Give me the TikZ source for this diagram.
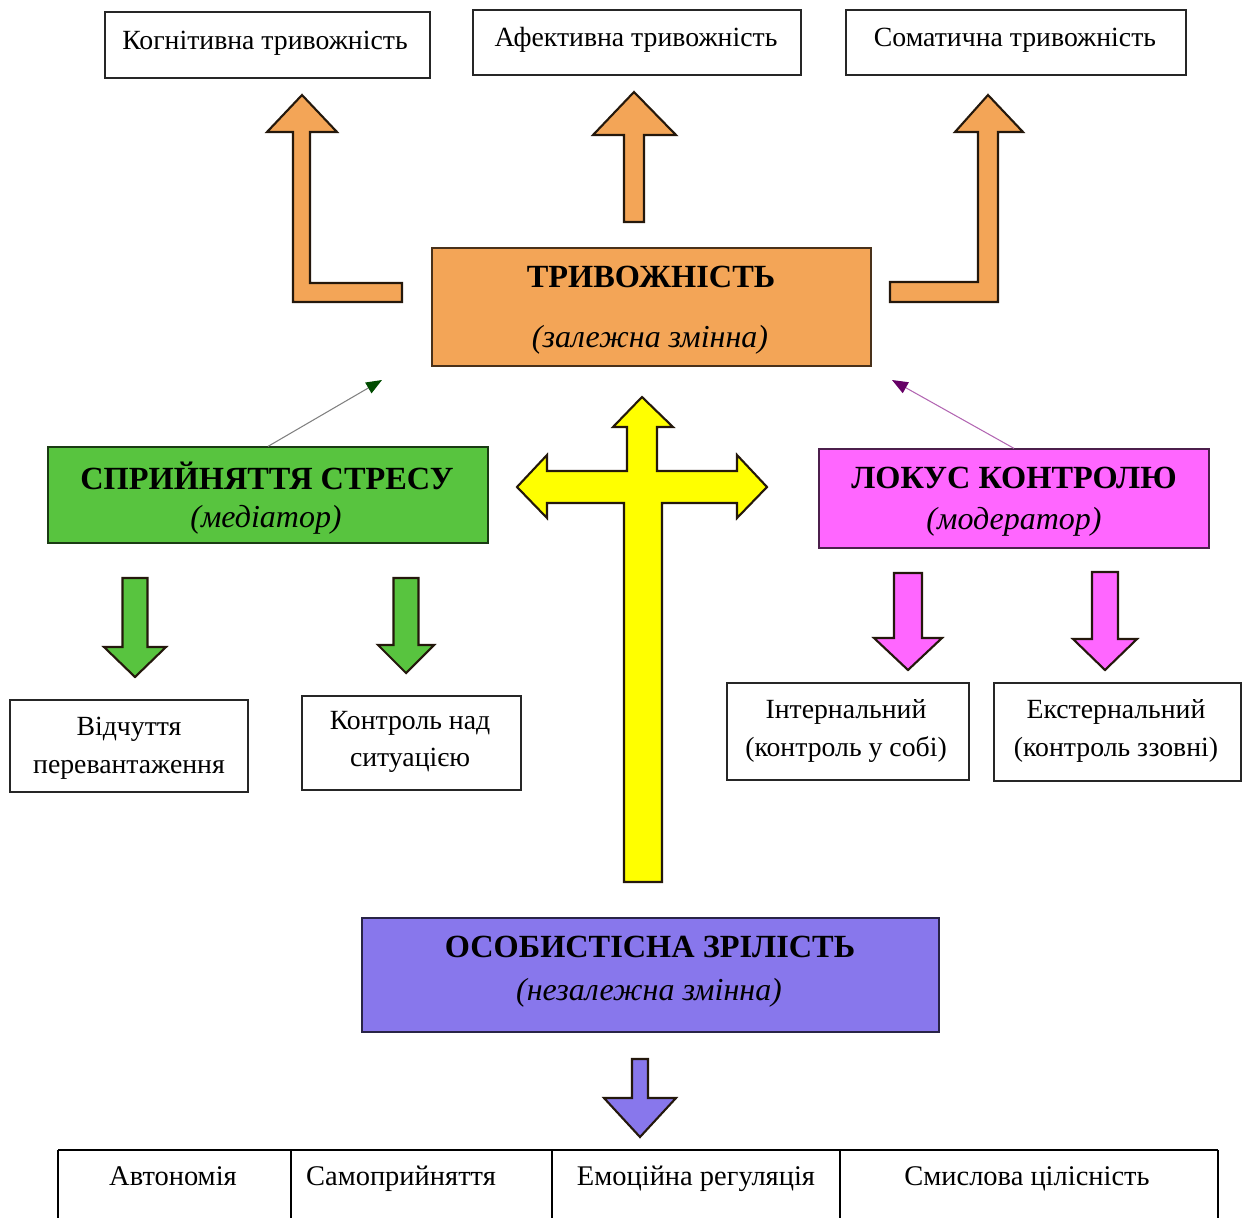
\documentclass[tikz,border=0pt]{standalone}
\usepackage{fontspec}
\setmainfont{Liberation Serif}
\usetikzlibrary{fit,arrows.meta}

\definecolor{orangebox}{HTML}{F3A557}
\definecolor{greenbox}{HTML}{58C43F}
\definecolor{pinkbox}{HTML}{FF66FF}
\definecolor{violetbox}{HTML}{8877EC}
\definecolor{yellowbar}{HTML}{FFFF00}
\definecolor{edge}{HTML}{24180C}

\tikzset{
  box/.style={draw=black!85, line width=0.7pt, inner sep=0pt},
  cbox/.style={box, fill=#1, draw=black!70!#1},
  txt/.style={inner sep=0pt, align=center, font=\fontsize{15.8}{21.5}\selectfont},
  title/.style={inner sep=0pt, font=\fontsize{18.4}{20}\selectfont\bfseries},
  subtitle/.style={inner sep=0pt, font=\fontsize{18.2}{20}\selectfont\itshape},
  blockar/.style={draw=edge, line width=1.2pt, line join=miter, fill=#1},
  thin/.style={line width=0.6pt},
  cell/.style={inner sep=0pt, anchor=base, font=\fontsize{16.2}{18}\selectfont}
}

\begin{document}
\begin{tikzpicture}[x=0.02cm,y=-0.02cm]
  \useasboundingbox (0,0) rectangle (1248,1218);

  % top row
  \node[box, fit={(105,12) (430,78)}] (kog) {};
  \node[box, fit={(473,10) (801,75)}] (afe) {};
  \node[box, fit={(846,10) (1186,75)}] (som) {};
  \node[txt] (kogT) at (265,43) {Когнітивна тривожність};
  \node[txt] (afeT) at (636,40) {Афективна тривожність};
  \node[txt] (somT) at (1015,40) {Соматична тривожність};

  % orange arrows
  \filldraw[blockar=orangebox] (293,302) -- (293,132) -- (267,132) -- (302,95) -- (337,132)
    -- (310,132) -- (310,283) -- (402,283) -- (402,302) -- cycle;
  \filldraw[blockar=orangebox] (624,222) -- (624,135) -- (593,135) -- (634,92) -- (676,135)
    -- (644,135) -- (644,222) -- cycle;
  \filldraw[blockar=orangebox] (998,302) -- (998,132) -- (1023,132) -- (988,95) -- (955,132)
    -- (978,132) -- (978,282) -- (890,282) -- (890,302) -- cycle;

  % dependent variable
  \node[cbox=orangebox, fit={(432,248) (871,366)}] (trv) {};
  \node[title] (trvT) at (651,277) {ТРИВОЖНІСТЬ};
  \node[subtitle] (trvS) at (650,340) {(залежна змінна)};

  % mediator and moderator
  \node[cbox=greenbox, fit={(48,447) (488,543)}] (str) {};
  \node[title] (strT) at (267,476) {СПРИЙНЯТТЯ СТРЕСУ};
  \node[subtitle] (strS) at (266,520) {(медіатор)};

  \node[cbox=pinkbox, fit={(819,449) (1209,548)}] (loc) {};
  \node[title] (locT) at (1014,478) {ЛОКУС КОНТРОЛЮ};
  \node[subtitle] (locS) at (1014,522) {(модератор)};

  \coordinate (tipL) at (382,380);
  \coordinate (tipR) at (892,380);
  \draw[thin, draw=gray, -{Triangle[length=9pt,width=7pt,color=green!30!black]}] (str.north) -- (tipL);
  \draw[thin, draw=violet!60, -{Triangle[length=9pt,width=7pt,color=violet!80!black]}] (loc.north) -- (tipR);

  % yellow cross
  \filldraw[blockar=yellowbar] (624,882) -- (624,503) -- (547,503) -- (547,518) -- (517,487)
    -- (547,455) -- (547,471) -- (627,471) -- (627,427) -- (613,427) -- (642,397) -- (673,427)
    -- (657,427) -- (657,471) -- (737,471) -- (737,455) -- (767,487) -- (737,518) -- (737,503)
    -- (662,503) -- (662,882) -- cycle;

  % down arrows
  \foreach \cx/\w/\t/\b/\h/\e/\c in {135/12.5/578/647/31/677/greenbox, 406/12.5/578/645/28/673/greenbox,
      908/14/573/638/34/670/pinkbox, 1105/13/572/639/32/670/pinkbox, 640/8/1059/1098/36/1137/violetbox}{
    \filldraw[blockar=\c] ({\cx-\w},\t) -- ({\cx+\w},\t) -- ({\cx+\w},\b) -- ({\cx+\h},\b)
      -- (\cx,\e) -- ({\cx-\h},\b) -- ({\cx-\w},\b) -- cycle;
  }

  % lower boxes
  \node[box, fit={(10,700) (248,792)}] (vid) {};
  \node[box, fit={(302,696) (521,790)}] (kon) {};
  \node[box, fit={(727,683) (969,780)}] (int) {};
  \node[box, fit={(994,683) (1241,781)}] (ext) {};
  \node[txt] (vidT) at (129,748) {Відчуття\\перевантаження};
  \node[txt] (konT) at (410,742) {Контроль над\\ситуацією};
  \node[txt] (intT) at (846,731) {Інтернальний\\(контроль у собі)};
  \node[txt] (extT) at (1116,731) {Екстернальний\\(контроль ззовні)};

  % independent variable
  \node[cbox=violetbox, fit={(362,918) (939,1032)}] (oso) {};
  \node[title] (osoT) at (650,947) {ОСОБИСТІСНА ЗРІЛІСТЬ};
  \node[subtitle] (osoS) at (649,993) {(незалежна змінна)};

  % components table
  \draw[line width=1pt] (58,1150) -- (1218,1150);
  \foreach \x in {58,291,552,840,1218}{
    \draw[line width=0.7pt] (\x,1150) -- (\x,1218);
  }
  \foreach \x/\t/\n in {173/Автономія/avt, 401/Самоприйняття/sam, 696/Емоційна регуляція/emo,
      1027/Смислова цілісність/smy}{
    \node[cell] (\n) at (\x,1185) {\t};
  }
\end{tikzpicture}
\end{document}
